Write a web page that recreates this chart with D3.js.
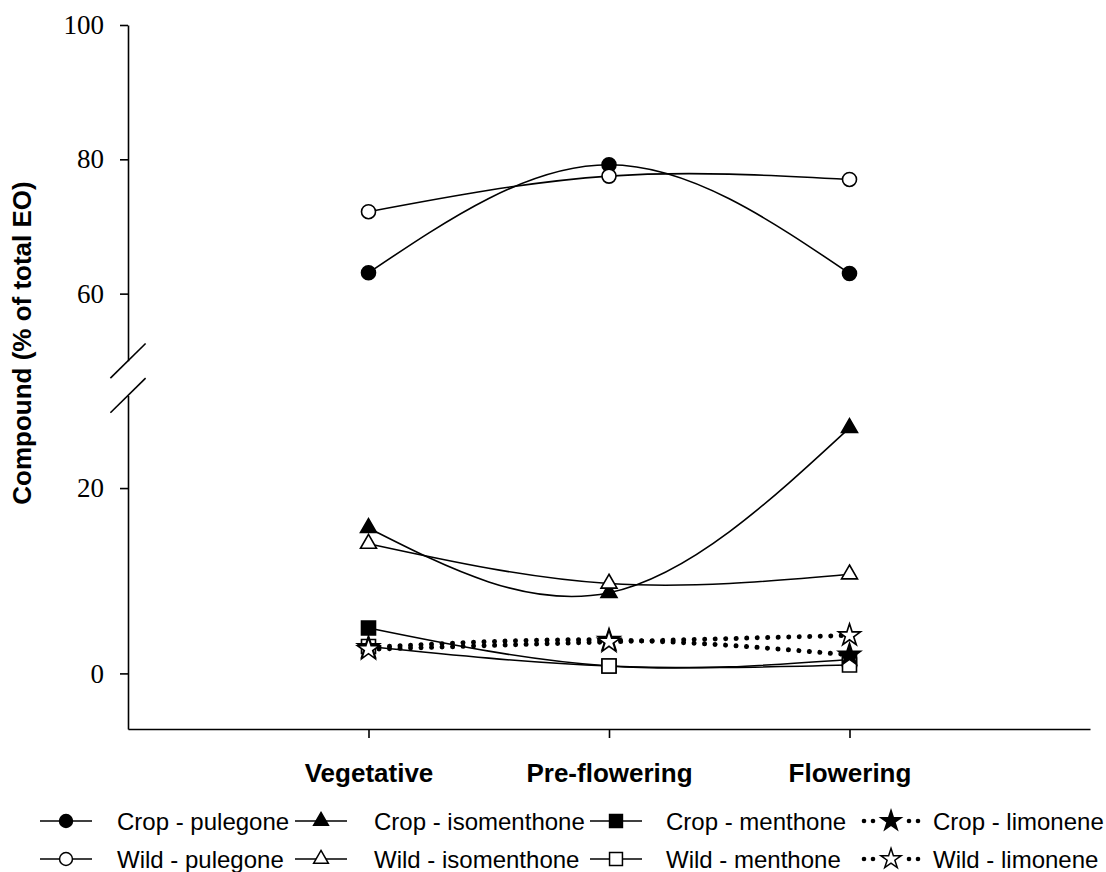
<!DOCTYPE html>
<html>
<head>
<meta charset="utf-8">
<script src="https://cdn.jsdelivr.net/npm/d3@7"></script>
<style>
  html, body { margin: 0; padding: 0; background: #fff; }
  svg { display: block; }
</style>
</head>
<body>
<svg id="chart" width="1106" height="872"></svg>
<script>
// Growth stages on the x axis
const stages = ["Vegetative", "Pre-flowering", "Flowering"];

// Main compounds (% of total essential oil) per stage
const cropPulegone    = [63.1, 79.2, 63.0];
const wildPulegone    = [72.2, 77.5, 77.0];
const cropIsomenthone = [15.7, 8.7, 26.5];
const wildIsomenthone = [14.0, 9.7, 10.7];
const cropMenthone    = [4.9, 0.8, 1.5];
const wildMenthone    = [2.9, 0.8, 0.9];
const cropLimonene    = [2.8, 3.6, 2.0];
const wildLimonene    = [2.6, 3.4, 4.1];

// Y tick labels for the two parts of the broken axis
const upperTicks = [60, 80, 100];
const lowerTicks = [0, 20];

const legendLabels = [
  "Crop - pulegone", "Crop - isomenthone", "Crop - menthone", "Crop - limonene",
  "Wild - pulegone", "Wild - isomenthone", "Wild - menthone", "Wild - limonene"
];

const series = [
  { name: legendLabels[0], values: cropPulegone,    shape: d3.symbolCircle,   size: 154, fill: "#000", dotted: false },
  { name: legendLabels[4], values: wildPulegone,    shape: d3.symbolCircle,   size: 154, fill: "#fff", dotted: false },
  { name: legendLabels[1], values: cropIsomenthone, shape: d3.symbolTriangle, size: 111, fill: "#000", dotted: false },
  { name: legendLabels[5], values: wildIsomenthone, shape: d3.symbolTriangle, size: 111, fill: "#fff", dotted: false },
  { name: legendLabels[2], values: cropMenthone,    shape: d3.symbolSquare,   size: 196, fill: "#000", dotted: false },
  { name: legendLabels[6], values: wildMenthone,    shape: d3.symbolSquare,   size: 196, fill: "#fff", dotted: false },
  { name: legendLabels[3], values: cropLimonene,    shape: d3.symbolStar,     size: 150, fill: "#000", dotted: true },
  { name: legendLabels[7], values: wildLimonene,    shape: d3.symbolStar,     size: 150, fill: "#fff", dotted: true }
];

const svg = d3.select("#chart");

// Scales: one x scale, two y scales joined by an axis break
const x = d3.scaleLinear().domain([0, 4]).range([128, 1090]);
const yUpper = d3.scaleLinear().domain([50, 100]).range([360.8, 25]);
const yLower = d3.scaleLinear().domain([-6, 30]).range([729, 395.4]);
const y = v => (v >= 40 ? yUpper(v) : yLower(v));

const AX = 128;

// Y axis, upper part
const gUp = svg.append("g").attr("transform", `translate(${AX},0)`)
  .call(d3.axisLeft(yUpper).tickValues(upperTicks).tickSize(8).tickSizeOuter(0).tickPadding(16));
// Y axis, lower part
const gLo = svg.append("g").attr("transform", `translate(${AX},0)`)
  .call(d3.axisLeft(yLower).tickValues(lowerTicks).tickSize(8).tickSizeOuter(0).tickPadding(16));

[gUp, gLo].forEach(g => {
  g.selectAll("path.domain").attr("stroke", "#000").attr("stroke-width", 1.6);
  g.selectAll(".tick line").attr("stroke", "#000").attr("stroke-width", 1.6);
  g.selectAll(".tick text")
    .attr("font-family", "'Liberation Serif', 'Times New Roman', serif")
    .attr("font-size", 27).attr("fill", "#000");
});

// Break marks on the y axis
const breakEnds = [yUpper(50), yLower(30)];
svg.append("g").selectAll("line").data(breakEnds).join("line")
  .attr("x1", AX - 17.6).attr("y1", d => d + 17.3)
  .attr("x2", AX + 17.6).attr("y2", d => d - 17.3)
  .attr("stroke", "#000").attr("stroke-width", 1.6);

// X axis
const gx = svg.append("g").attr("transform", `translate(0,${yLower(-6)})`)
  .call(d3.axisBottom(x).tickValues([1, 2, 3]).tickFormat(i => stages[i - 1])
    .tickSize(9).tickSizeOuter(0).tickPadding(26));
gx.selectAll("path.domain").attr("stroke", "#000").attr("stroke-width", 1.6);
gx.selectAll(".tick line").attr("stroke", "#000").attr("stroke-width", 1.6);
gx.selectAll(".tick text")
  .attr("font-family", "'Liberation Sans', Arial, sans-serif")
  .attr("font-weight", "bold").attr("font-size", 26).attr("fill", "#000");

// Y axis title
svg.append("text")
  .attr("transform", "translate(31,343) rotate(-90)")
  .attr("text-anchor", "middle")
  .attr("font-family", "'Liberation Sans', Arial, sans-serif")
  .attr("font-weight", "bold").attr("font-size", 26).attr("fill", "#000")
  .text("Compound (% of total EO)");

// Smoothed series lines with markers
const line = d3.line()
  .x((d, i) => x(i + 1))
  .y(d => y(d))
  .curve(d3.curveNatural);

function styleLine(sel, dotted) {
  if (dotted) {
    sel.attr("stroke-width", 5).attr("stroke-linecap", "round").attr("stroke-dasharray", "0.01 10.5");
  } else {
    sel.attr("stroke-width", 1.6);
  }
}

const plot = svg.append("g");
series.forEach(s => {
  const g = plot.append("g");
  g.append("path").attr("d", line(s.values))
    .attr("fill", "none").attr("stroke", "#000")
    .call(styleLine, s.dotted);
  g.selectAll("path.mark").data(s.values).join("path")
    .attr("class", "mark")
    .attr("transform", (d, i) => `translate(${x(i + 1)},${y(d)})`)
    .attr("d", d3.symbol().type(s.shape).size(s.size))
    .attr("fill", s.fill).attr("stroke", "#000").attr("stroke-width", 1.6);
});

// Legend: two rows (crop / wild), four columns of compounds
const legendCols = [
  { sx: 66,  tx: 117 },
  { sx: 321, tx: 374 },
  { sx: 616, tx: 666 },
  { sx: 891, tx: 933 }
];
const legendRows = [821, 859];
const legendOrder = [0, 2, 4, 6, 1, 3, 5, 7]; // index into series, row by row
const leg = svg.append("g");
legendOrder.forEach((si, k) => {
  const s = series[si];
  const row = Math.floor(k / 4), col = k % 4;
  const cy = legendRows[row], c = legendCols[col];
  const g = leg.append("g");
  if (s.dotted) {
    // two round dots either side of the star
    g.selectAll("circle").data([-27, -18, 18, 27]).join("circle")
      .attr("cx", d => c.sx + d).attr("cy", cy).attr("r", 2.3).attr("fill", "#000");
  } else {
    g.append("line")
      .attr("x1", c.sx - 26).attr("x2", c.sx + 26).attr("y1", cy).attr("y2", cy)
      .attr("stroke", "#000").attr("stroke-width", 1.6);
  }
  g.append("path")
    .attr("transform", `translate(${c.sx},${cy})`)
    .attr("d", d3.symbol().type(s.shape).size(s.size * 0.85))
    .attr("fill", s.fill).attr("stroke", "#000").attr("stroke-width", 1.5);
  g.append("text")
    .attr("x", c.tx).attr("y", cy + 9)
    .attr("font-family", "'Liberation Sans', Arial, sans-serif")
    .attr("font-size", 24).attr("fill", "#000")
    .text(s.name);
});
</script>
</body>
</html>
